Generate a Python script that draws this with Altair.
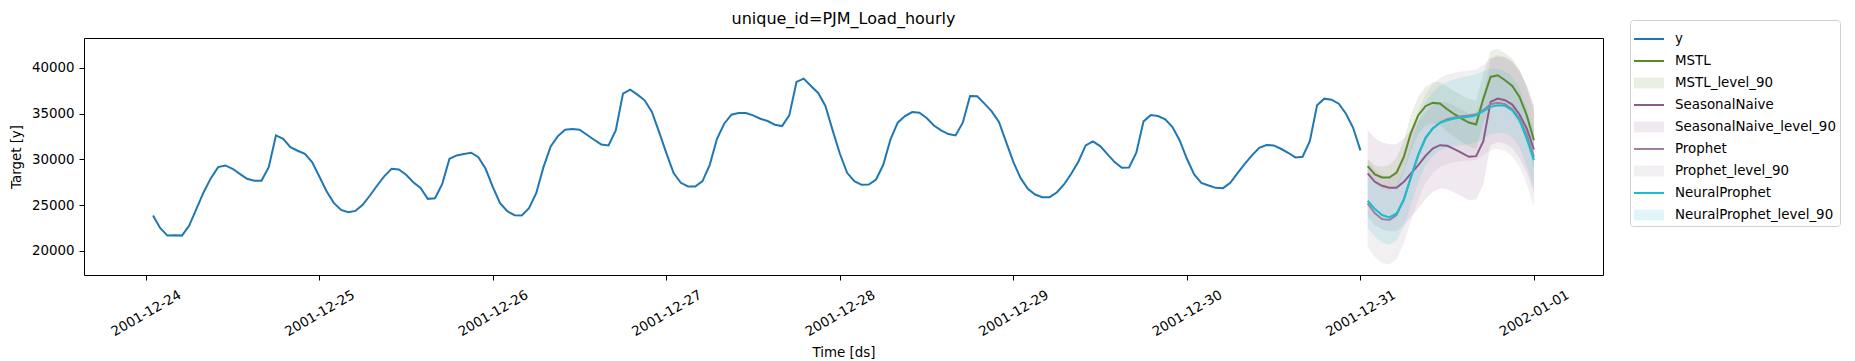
import altair as alt
import pandas as pd

# ---------------- data ----------------
y_vals = [
    23849, 22460, 21655, 21692, 21655, 22752, 24580, 26407, 27942, 29148, 29331, 28966,
    28417, 27869, 27650, 27650, 29148, 32620, 32255, 31341, 30939, 30610, 29697, 28125,
    26517, 25237, 24470, 24214, 24360, 25018, 26041, 27138, 28161, 28966, 28893, 28307,
    27503, 26882, 25676, 25749, 27321, 30062, 30428, 30574, 30720, 30245, 28966, 26955,
    25201, 24324, 23885, 23849, 24650, 26297, 29148, 31414, 32547, 33242, 33315, 33242,
    32693, 32145, 31634, 31524, 33169, 37189, 37628, 37080, 36458, 35179, 32986, 30683,
    28490, 27430, 27028, 27028, 27613, 29404, 32255, 33900, 34887, 35069, 35069, 34814,
    34448, 34192, 33790, 33644, 34814, 38469, 38834, 38030, 37262, 35837, 33169, 30610,
    28527, 27613, 27211, 27248, 27796, 29404, 32182, 34009, 34740, 35179, 35106, 34521,
    33700, 33170, 32770, 32620, 34009, 36933, 36897, 36093, 35252, 34083, 31889, 29697,
    27942, 26772, 26151, 25859, 25859, 26370, 27248, 28417, 29770, 31524, 31963, 31451,
    30574, 29697, 29075, 29112, 30720, 34155, 34850, 34740, 34375, 33534, 32072, 30062,
    28344, 27430, 27138, 26882, 26846, 27430, 28489, 29514, 30428, 31268, 31561, 31524,
    31158, 30720, 30208, 30281, 31999, 35910, 36641, 36531, 36093, 34996, 33425, 30976,
]

mstl = [29257, 28346, 28018, 28018, 28565, 30277, 32937, 34831, 35815, 36179, 36106, 35487,
        34940, 34467, 34030, 33810, 36652, 39020, 39202, 38656, 38037, 36834, 34831, 32098]
mstl_lo = [28457, 27346, 26818, 26618, 26965, 28477, 30987, 32781, 33665, 33929, 33756, 33037,
           32440, 31917, 31430, 31160, 33952, 36220, 36302, 35706, 35037, 33834, 31781, 28998]
mstl_hi = [30057, 29346, 29218, 29418, 30165, 32077, 34887, 36881, 37965, 38429, 38456, 37937,
           37440, 37017, 36630, 36460, 39352, 41820, 42102, 41606, 41037, 39834, 37881, 35198]

snaive = [28456, 27545, 27108, 26889, 26889, 27545, 28456, 29366, 30386, 31188, 31552, 31479,
          31115, 30714, 30277, 30350, 32000, 36288, 36652, 36470, 35996, 34904, 33374, 31078]
snaive_lo = [23706, 22795, 22358, 22139, 22139, 22795, 23706, 24616, 25636, 26438, 26802, 26729,
             26365, 25964, 25527, 25600, 27250, 31538, 31902, 31720, 31246, 30154, 28624, 26328]
snaive_hi = [33206, 32295, 31858, 31639, 31639, 32295, 33206, 34116, 35136, 35938, 36302, 36229,
             35865, 35464, 35027, 35100, 36750, 41038, 41402, 41220, 40746, 39654, 38124, 35828]

prophet = [25177, 24084, 23465, 23355, 23902, 25650, 28091, 30459, 32281, 33374, 34030, 34394,
           34576, 34722, 34795, 34904, 35378, 36033, 36179, 36033, 35487, 34467, 32645, 30277]
prophet_lo = [20377, 19284, 18635, 18525, 19072, 20820, 23241, 25609, 27431, 28504, 29160, 29494,
              29676, 29822, 29875, 29954, 30408, 31033, 31129, 30933, 30337, 29217, 27295, 24827]
prophet_hi = [29977, 28884, 28295, 28185, 28732, 30480, 32941, 35309, 37131, 38244, 38900, 39294,
              39476, 39622, 39715, 39854, 40348, 41033, 41229, 41133, 40637, 39717, 37995, 35727]

nprophet = [25468, 24557, 23902, 23647, 24084, 25541, 28091, 30533, 32390, 33374, 33993, 34284,
            34467, 34576, 34649, 34831, 35268, 35742, 35924, 35851, 35378, 34284, 32281, 29913]
nprophet_lo = [22468, 21557, 20902, 20647, 21084, 22541, 25091, 27533, 29390, 30374, 30993, 31284,
               31467, 31576, 31649, 31831, 32268, 32742, 32924, 32851, 32378, 31284, 29281, 26913]
nprophet_hi = [28468, 27557, 26902, 26647, 27184, 28841, 31591, 34233, 36290, 37374, 38093, 38484,
               38767, 38976, 39149, 39331, 39668, 39942, 39924, 39651, 38978, 37784, 35681, 33213]

line_names = ["y", "MSTL", "SeasonalNaive", "Prophet", "NeuralProphet"]
band_names = ["MSTL_level_90", "SeasonalNaive_level_90", "Prophet_level_90",
              "NeuralProphet_level_90"]
entries = ["y", "MSTL", "MSTL_level_90", "SeasonalNaive", "SeasonalNaive_level_90",
           "Prophet", "Prophet_level_90", "NeuralProphet", "NeuralProphet_level_90"]
y_ticks = [20000, 25000, 30000, 35000, 40000]

# ---------------- styles ----------------
line_colors = ["#1f77b4", "#5a8b2b", "#8c5b8c", "#9e809e", "#17becf"]
band_colors = ["#5a8b2b", "#8c5b8c", "#9e809e", "#17becf"]
legend_colors = ["#1f77b4", "#5a8b2b", "#e9efe3", "#8c5b8c", "#f0e9f0",
                 "#9e809e", "#f2eff2", "#17becf", "#e0f5f8"]
BAND_OPACITY = 0.13
LINE = "M-1,-0.065L1,-0.065L1,0.065L-1,0.065Z"
BOX = "M-1,-0.36L1,-0.36L1,0.36L-1,0.36Z"
shapes = [LINE, LINE, BOX, LINE, BOX, LINE, BOX, LINE, BOX]
FONT = "DejaVu Sans"
FS = 13.4

# ---------------- tables ----------------
fmt = "%Y-%m-%dT%H:%M:%S"
hist_ds = pd.date_range("2001-12-24 01:00", periods=len(y_vals), freq="h").strftime(fmt)
fc_ds = pd.date_range("2001-12-31 01:00", periods=len(mstl), freq="h").strftime(fmt)

lines = [pd.DataFrame({"ds": hist_ds, "series": "y", "value": y_vals})]
for name, vals in [("MSTL", mstl), ("SeasonalNaive", snaive),
                   ("Prophet", prophet), ("NeuralProphet", nprophet)]:
    lines.append(pd.DataFrame({"ds": fc_ds, "series": name, "value": vals}))
lines_df = pd.concat(lines, ignore_index=True)

bands = []
for name, lo, hi in [("MSTL_level_90", mstl_lo, mstl_hi),
                     ("SeasonalNaive_level_90", snaive_lo, snaive_hi),
                     ("Prophet_level_90", prophet_lo, prophet_hi),
                     ("NeuralProphet_level_90", nprophet_lo, nprophet_hi)]:
    bands.append(pd.DataFrame({"ds": fc_ds, "series": name, "lo": lo, "hi": hi}))
bands_df = pd.concat(bands, ignore_index=True)

legend_df = pd.DataFrame({"ds": [fc_ds[0]] * len(entries), "series": entries,
                          "value": [None] * len(entries)})

# ---------------- scales / axes ----------------
x_scale = alt.Scale(domain=[alt.DateTime(year=2001, month=12, date=23, hours=15, minutes=27),
                            alt.DateTime(year=2002, month=1, date=1, hours=9, minutes=33)])
y_scale = alt.Scale(domain=[17344, 43279], nice=False, zero=False)

x_axis = alt.Axis(title="Time [ds]", format="%Y-%m-%d", formatType="time",
                  tickCount={"interval": "day", "step": 1},
                  labelAngle=330, labelAlign="center", labelBaseline="middle",
                  labelPadding=33, titleY=77, titleBaseline="middle")
y_axis = alt.Axis(title="Target [y]", values=y_ticks, format="d",
                  titleX=-68, titleY=118.5, titleAngle=270, titleAlign="center",
                  titleBaseline="middle")

legend = alt.Legend(title=None, orient="none", legendX=1546, legendY=-18,
                    symbolSize=900, symbolStrokeWidth=0,
                    labelFontSize=FS, labelFont=FONT, labelColor="black",
                    rowPadding=-1.6, labelOffset=11, padding=4,
                    strokeColor="#d0d0d0", cornerRadius=3,
                    fillColor="white", labelLimit=300)

X = alt.X("ds:T", scale=x_scale, axis=x_axis)

band_layer = alt.Chart(bands_df).mark_area(line=False, opacity=BAND_OPACITY).encode(
    x=X,
    y=alt.Y("lo:Q", scale=y_scale, axis=y_axis),
    y2="hi:Q",
    color=alt.Color("series:N", scale=alt.Scale(domain=band_names, range=band_colors),
                    legend=None),
    detail="series:N",
)

line_layer = alt.Chart(lines_df).mark_line(strokeWidth=2).encode(
    x=X,
    y=alt.Y("value:Q", scale=y_scale, axis=y_axis),
    color=alt.Color("series:N", scale=alt.Scale(domain=line_names, range=line_colors),
                    legend=None),
)

legend_layer = alt.Chart(legend_df).mark_point(filled=True, strokeWidth=0, opacity=1).encode(
    x=X,
    y=alt.Y("value:Q", scale=y_scale, axis=y_axis),
    color=alt.Color("series:N", scale=alt.Scale(domain=entries, range=legend_colors),
                    legend=legend),
    shape=alt.Shape("series:N", scale=alt.Scale(domain=entries, range=shapes),
                    legend=legend),
)

chart = alt.layer(band_layer, line_layer, legend_layer).resolve_scale(
    color="independent", shape="independent"
).resolve_legend(
    color="independent", shape="independent"
).properties(
    width=1519, height=237,
    title=alt.TitleParams("unique_id=PJM_Load_hourly", fontSize=16, font=FONT,
                          fontWeight="normal", color="black", anchor="middle",
                          baseline="alphabetic", offset=-20, frame="group"),
    padding={"left": 1, "top": 2, "right": 0, "bottom": 0},
).configure_view(
    stroke="black", strokeWidth=1
).configure_axis(
    grid=False, domain=False, tickColor="black", tickSize=5, tickWidth=1,
    labelFont=FONT, labelFontSize=FS, labelColor="black",
    titleFont=FONT, titleFontSize=FS, titleFontWeight="normal", titleColor="black",
).configure_axisY(labelPadding=5).configure_axisX(labelPadding=33)

chart.save("out.html", embed_options={"renderer": "svg", "actions": False})
